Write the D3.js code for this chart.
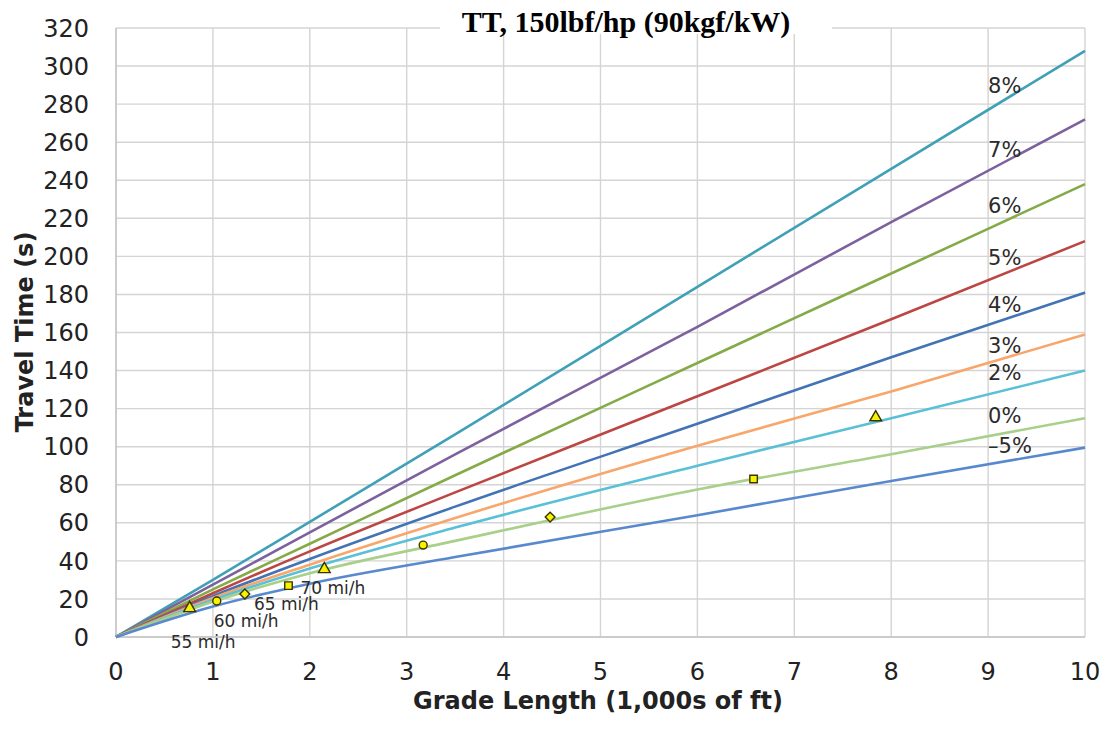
<!DOCTYPE html>
<html>
<head>
<meta charset="utf-8">
<script src="https://cdn.jsdelivr.net/npm/d3@7"></script>
<style>
  body { margin: 0; background: #fff; }
  svg { display: block; }
</style>
</head>
<body>
<div id="chart"></div>
<script>
var width = 1104;
var height = 730;

// grade lines, travel time (s) read at these grade lengths (1,000s of ft)
var lengthPts = [0, 1, 2, 3.5, 6, 8, 10];
var grades = ["8%", "7%", "6%", "5%", "4%", "3%", "2%", "0%", "\u20135%"];
var tt8  = [0, 30, 60.5, 106.5, 184, 246, 308];
var tt7  = [0, 27.5, 55, 96, 163, 218, 272];
var tt6  = [0, 25, 49, 85, 144, 191, 238];
var tt5  = [0, 23, 45, 76, 126.5, 167, 208];
var tt4  = [0, 21.5, 41, 68.5, 112, 147, 181];
var tt3  = [0, 20.5, 38, 62.5, 100.5, 129, 159];
var tt2  = [0, 19.5, 36, 57.5, 90, 115, 140];
var tt0  = [0, 18.5, 33.5, 50.5, 77.5, 96, 115];
var ttM5 = [0, 16, 28, 42, 64, 82, 99.5];
var gradeSeries = [tt8, tt7, tt6, tt5, tt4, tt3, tt2, tt0, ttM5];
var gradeColors = ["#3fa0b6", "#7d619f", "#85ab48", "#bb4643", "#4273b4",
                   "#f8a66b", "#5ac0d8", "#a8d08a", "#5889cf"];

// where the grade labels sit (length, travel time)
var gradeLabelLen = 9.0;
var gradeLabelTT = [286, 252, 223, 195.5, 171, 149, 135, 112.5, 96.7];

// speed markers
var speeds = ["55 mi/h", "60 mi/h", "65 mi/h", "70 mi/h"];
var markLen   = [0.76, 1.04, 1.33, 1.78, 2.15, 3.17, 4.48, 6.58, 7.84];
var markTT    = [15.1, 18.9, 22.6, 27.0, 35.6, 48.3, 63.0, 83.0, 115.4];
var markSpeed = [0, 1, 2, 3, 0, 1, 2, 3, 0];

var xTicks = [0, 1, 2, 3, 4, 5, 6, 7, 8, 9, 10];
var yTicks = d3.range(0, 321, 20);

var margin = {top: 28, right: 19, bottom: 93, left: 116};
var font = "DejaVu Sans, Verdana, sans-serif";

var svg = d3.select("#chart")
    .append("svg")
    .attr("width", width)
    .attr("height", height);

var x = d3.scaleLinear().domain([0, 10]).range([margin.left, width - margin.right]);
var y = d3.scaleLinear().domain([0, 320]).range([height - margin.bottom, margin.top]);

// grid
svg.append("g")
    .selectAll("line")
    .data(yTicks)
    .join("line")
    .attr("x1", x(0))
    .attr("x2", x(10))
    .attr("y1", function(d){ return y(d); })
    .attr("y2", function(d){ return y(d); })
    .style("stroke", "#d4d4d4")
    .style("stroke-width", 1.4);

svg.append("g")
    .selectAll("line")
    .data(xTicks)
    .join("line")
    .attr("x1", function(d){ return x(d); })
    .attr("x2", function(d){ return x(d); })
    .attr("y1", y(0))
    .attr("y2", y(320))
    .style("stroke", "#d4d4d4")
    .style("stroke-width", 1.4);

// axes lines
svg.append("line")
    .attr("x1", x(0)).attr("x2", x(0))
    .attr("y1", y(0)).attr("y2", y(320))
    .style("stroke", "#c4c4c4").style("stroke-width", 1.4);
svg.append("line")
    .attr("x1", x(0)).attr("x2", x(10))
    .attr("y1", y(0)).attr("y2", y(0))
    .style("stroke", "#c4c4c4").style("stroke-width", 1.4);

// tick labels
svg.append("g")
    .selectAll("text")
    .data(yTicks)
    .join("text")
    .attr("x", 89)
    .attr("y", function(d){ return y(d); })
    .attr("dy", "0.36em")
    .attr("text-anchor", "end")
    .style("font-family", font)
    .style("font-size", "24px")
    .style("fill", "#222")
    .text(function(d){ return d; });

svg.append("g")
    .selectAll("text")
    .data(xTicks)
    .join("text")
    .attr("x", function(d){ return x(d); })
    .attr("y", 680)
    .attr("text-anchor", "middle")
    .style("font-family", font)
    .style("font-size", "24px")
    .style("fill", "#222")
    .text(function(d){ return d; });

// axis titles
svg.append("text")
    .attr("x", 598)
    .attr("y", 709)
    .attr("text-anchor", "middle")
    .style("font-family", font)
    .style("font-weight", "bold")
    .style("font-size", "24px")
    .style("fill", "#222")
    .text("Grade Length (1,000s of ft)");

svg.append("text")
    .attr("transform", "translate(33," + 332 + ") rotate(-90)")
    .attr("text-anchor", "middle")
    .style("font-family", font)
    .style("font-weight", "bold")
    .style("font-size", "24px")
    .style("fill", "#222")
    .text("Travel Time (s)");

// grade curves
var line = d3.line()
    .x(function(d){ return x(d[0]); })
    .y(function(d){ return y(d[1]); })
    .curve(d3.curveMonotoneX);

svg.append("g")
    .selectAll("path")
    .data(gradeSeries)
    .join("path")
    .attr("d", function(s){ return line(lengthPts.map(function(l, i){ return [l, s[i]]; })); })
    .style("fill", "none")
    .style("stroke", function(s, i){ return gradeColors[i]; })
    .style("stroke-width", 2.6);

svg.append("g")
    .selectAll("text")
    .data(grades)
    .join("text")
    .attr("x", x(gradeLabelLen))
    .attr("y", function(d, i){ return y(gradeLabelTT[i]); })
    .style("font-family", font)
    .style("font-size", "21px")
    .style("fill", "#2b2b2b")
    .text(function(d){ return d; });

// speed markers: triangle, circle, diamond (rotated square), square
var shapes = [d3.symbolTriangle, d3.symbolCircle, d3.symbolSquare, d3.symbolSquare];
var shapeSize = [60, 50, 48, 56];
var shapeRot = [0, 0, 45, 0];

svg.append("g")
    .selectAll("path")
    .data(markLen)
    .join("path")
    .attr("transform", function(d, i){
        return "translate(" + x(d) + "," + y(markTT[i]) + ") rotate(" + shapeRot[markSpeed[i]] + ")";
    })
    .attr("d", function(d, i){ return d3.symbol().type(shapes[markSpeed[i]]).size(shapeSize[markSpeed[i]])(); })
    .style("fill", "#f7f200")
    .style("stroke", "#3a3200")
    .style("stroke-width", 1.4);

// speed labels next to the first marker of each speed
var speedOffset = [[-19, 40], [-3, 26], [9, 16], [12, 8]];
svg.append("g")
    .selectAll("text")
    .data(speeds)
    .join("text")
    .attr("x", function(d, i){ return x(markLen[i]) + speedOffset[i][0]; })
    .attr("y", function(d, i){ return y(markTT[i]) + speedOffset[i][1]; })
    .style("font-family", font)
    .style("font-size", "17px")
    .style("fill", "#2b2b2b")
    .text(function(d){ return d; });

// title box
svg.append("rect")
    .attr("x", 440)
    .attr("y", 0)
    .attr("width", 392)
    .attr("height", 34)
    .style("fill", "#fff");

svg.append("text")
    .attr("x", 626)
    .attr("y", 32)
    .attr("text-anchor", "middle")
    .style("font-family", "Liberation Serif, Times New Roman, serif")
    .style("font-weight", "bold")
    .style("font-size", "30px")
    .style("fill", "#000")
    .text("TT, 150lbf/hp (90kgf/kW)");
</script>
</body>
</html>
